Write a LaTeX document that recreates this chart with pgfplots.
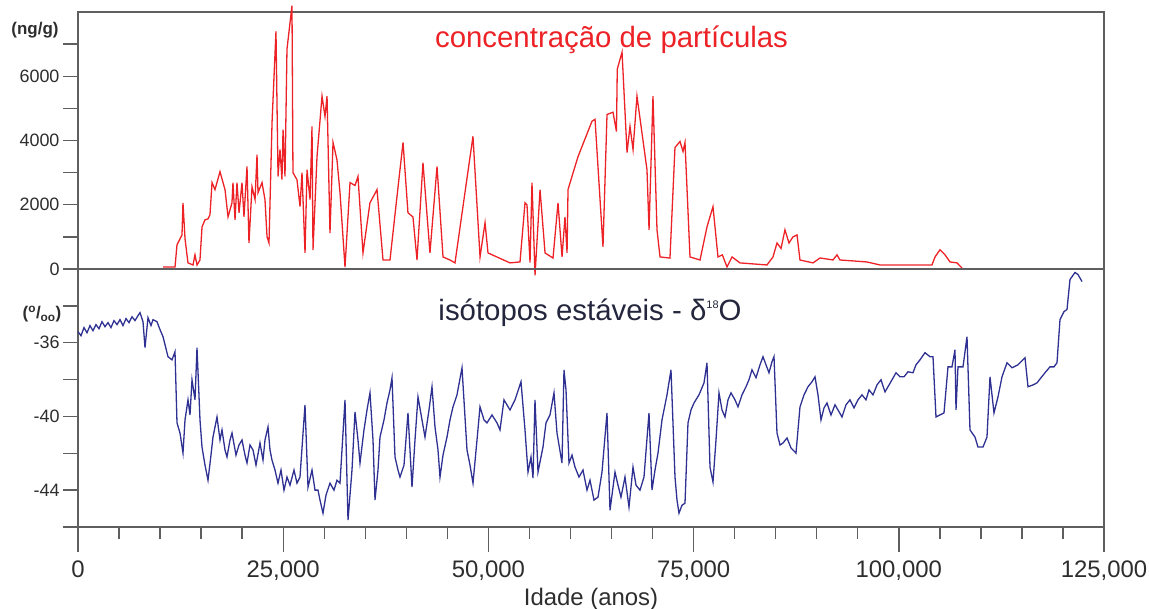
\documentclass[border=0pt]{standalone}
\usepackage{pgfplots}
\pgfplotsset{compat=1.18}
\usepackage{fontspec}
\setmainfont{Liberation Sans}
\definecolor{redline}{RGB}{236,34,39}
\definecolor{blueline}{RGB}{46,49,146}
\definecolor{axgray}{RGB}{95,95,95}
\definecolor{ticktext}{RGB}{45,45,45}
\definecolor{navytext}{RGB}{35,38,60}
\begin{document}
\begin{tikzpicture}
\path[use as bounding box] (0,0) rectangle (1149bp,609bp);
\pgfplotsset{
  base/.style={scale only axis, width=1026bp, xmin=0, xmax=125000, clip=false,
    axis line style={axgray, line width=1.4bp},
    tick style={axgray, line width=1.4bp},
    tick align=outside, ytick pos=left,
    major tick length=15bp, minor tick length=15bp,
    scaled x ticks=false, scaled y ticks=false,
    tick label style={font=\fontsize{18}{20}\selectfont, text=ticktext},
    xtick=\empty,
  },
}
% ---------------- top panel: particle concentration
\begin{axis}[base, at={(78bp,340bp)}, anchor=south west, height=257bp,
  ymin=0, ymax=8000, ytick={0,2000,4000,6000}, yticklabels={0,2000,4000,6000},
  minor ytick={1000,3000,5000,7000}]
\addplot[redline, line width=1.3bp] coordinates {
(10360,62) (11820,62) (12060,750) (12670,1060) (12790,2060) (13040,940) (13400,190)
(14010,125) (14250,440) (14500,125) (14860,280) (15110,1310) (15470,1530) (15840,1560)
(16080,1690) (16330,2690) (16690,2470) (17300,3030) (17910,2470) (18280,1625) (18760,2060)
(18880,2690) (19130,1530) (19370,2690) (19620,1750) (19980,2690) (20220,1625) (20590,3190)
(20830,810) (21200,2560) (21570,2160) (21810,3560) (21930,2375) (22420,2690) (22780,2160)
(23030,1000) (23270,810) (23640,4560) (24120,7400)
(24370,2880) (24610,3720) (24850,2780) (24980,4340) (25220,2880) (25460,6840) (26070,8200)
(26190,3000) (26680,2780) (27050,1940) (27290,3000) (27660,500) (27900,3090) (28270,2160)
(28510,4440) (28630,590) (29120,3500) (29730,5380) (30090,4750) (30340,5380) (30700,1120)
(31070,3940) (31550,3400) (31920,2380) (32530,60) (33140,2690) (33750,2600) (34110,2880)
(34720,500) (35570,2060) (36430,2470) (37160,280) (38010,280) (38860,2250) (39600,3940)
(40200,1750) (40810,1620) (41300,280) (42030,3310) (42880,500) (43740,3190) (44470,375)
(45320,280) (45930,190) (46900,1940) (48120,4130) (48980,375) (49590,1440) (49950,500)
(52630,190) (53850,220) (54460,2060) (54700,2000) (55070,200) (55310,2690) (55680,-200)
(56290,2470) (56900,500) (57870,340) (58480,2060) (58970,375) (59330,1620) (59580,500)
(59700,2470) (60180,2880) (60920,3500) (62620,4600) (62990,4660) (63960,690) (64450,4810)
(65180,4880) (65600,4280) (65700,6220) (66280,6750) (66890,3625) (67250,4440) (67620,3720)
(68100,5380) (69320,3090) (69570,1220) (70050,5380) (70540,1220) (70910,375) (72120,340)
(72730,3780) (73340,3970) (73710,3660) (73950,3940) (74560,375) (75780,280) (76630,1310)
(77360,1940) (77970,375) (78500,440) (79070,62) (79680,375) (80650,190) (83940,125)
(84670,375) (85160,810) (85650,640) (86130,1220) (86620,810) (87110,1000) (87600,1060)
(87960,280) (89550,190) (90400,344) (91980,281) (92470,440) (92830,281) (96120,219)
(97710,125) (100140,125) (104040,125) (104410,375) (105020,600) (105630,440) (106240,220)
(107090,190) (107700,30)
};
\node[anchor=base, text=redline, font=\fontsize{29.5}{32}\selectfont]
  at (axis description cs:0.52,0.86) {concentração de partículas};
\node[anchor=center, text=ticktext, font=\fontsize{17}{19}\selectfont\bfseries]
  at (axis description cs:0,0.93) [xshift=-43bp] {(ng/g)};
\end{axis}
% ---------------- bottom panel: d18O
\begin{axis}[base, at={(78bp,82bp)}, anchor=south west, height=258bp,
  ymin=-46, ymax=-32, ytick={-36,-40,-44}, yticklabels={-36,-40,-44},
  minor ytick={-34,-38,-42,-46}]
\addplot[blueline, line width=1.3bp] coordinates {
(0,-35.40) (365,-35.62) (731,-35.18) (1096,-35.46) (1462,-35.07) (1827,-35.35) (2193,-35.02)
(2558,-35.24) (2924,-34.86) (3289,-35.13) (3655,-34.91) (4020,-35.18) (4386,-34.80) (4751,-35.02)
(5117,-34.75) (5482,-35.07) (5848,-34.69) (6213,-34.91) (6579,-34.59) (6944,-34.80) (7310,-34.53)
(7553,-34.37) (7919,-34.86) (8163,-36.27) (8528,-34.64) (8894,-35.07) (9137,-34.75) (9625,-34.86)
(9990,-35.29) (10356,-35.67) (10965,-36.76) (11452,-36.93) (11818,-36.49) (12061,-40.35)
(12427,-40.90) (12792,-41.99) (13036,-40.19) (13401,-39.10) (13645,-39.92) (13889,-38.01)
(14254,-39.10) (14498,-36.27) (14863,-40.19) (15107,-41.66) (15472,-42.64) (15838,-43.46)
(16203,-42.10) (16447,-41.12) (16934,-40.03) (17300,-41.28) (17544,-40.73) (17909,-41.82)
(18153,-42.20) (18518,-41.28) (18762,-40.90) (19249,-42.10) (19615,-41.55) (19980,-41.28)
(20346,-42.10) (20589,-42.53) (20955,-41.55) (21320,-41.82) (21686,-42.64) (22173,-41.44)
(22539,-42.37) (22782,-41.28) (23148,-40.57) (23391,-41.82) (23635,-42.37) (24000,-42.91)
(24366,-43.62) (24731,-42.91) (25097,-44.00) (25462,-43.29) (25828,-43.73) (26315,-42.91)
(26681,-43.62) (27046,-43.29) (27655,-39.37) (28021,-43.84) (28508,-42.91) (28874,-44.00)
(29239,-44.00) (29483,-44.54) (29848,-45.25) (30214,-44.27) (30701,-43.62) (31188,-44.00)
(31554,-43.46) (31919,-43.62) (32529,-39.10) (32894,-45.63) (33381,-42.91) (33747,-39.75)
(34112,-41.28) (34356,-42.53) (34843,-40.73) (35209,-39.65) (35574,-38.72) (35940,-41.28)
(36184,-44.54) (36549,-42.91) (36793,-41.12) (37280,-40.19) (37645,-39.27) (38011,-38.56)
(38255,-37.90) (38620,-42.20) (38986,-42.91) (39229,-43.29) (39717,-42.64) (40204,-39.81)
(40691,-43.84) (41057,-41.28) (41422,-38.94) (41910,-40.19) (42275,-41.12) (42762,-39.65)
(43128,-38.39) (43493,-40.57) (43859,-41.82) (44102,-43.29) (44468,-42.10) (44955,-41.12)
(45321,-40.19) (45686,-39.48) (46174,-38.83) (46783,-37.36) (47392,-41.82) (47757,-42.64)
(48123,-43.62) (48610,-41.28) (48976,-39.48) (49463,-40.19) (49828,-40.35) (50438,-39.92)
(51047,-40.35) (51412,-40.73) (51899,-39.10) (52631,-39.65) (53240,-39.10) (53971,-38.12)
(54458,-40.73) (54824,-43.02) (55189,-42.20) (55433,-43.35) (55676,-39.10) (56042,-43.02)
(56651,-41.66) (57016,-40.35) (57504,-39.92) (57991,-38.72) (58357,-40.90) (58966,-42.53)
(59209,-37.47) (59453,-38.56) (59819,-42.53) (60184,-42.10) (60550,-42.75) (61037,-43.29)
(61524,-42.91) (62011,-44.00) (62377,-43.46) (62864,-44.54) (63352,-44.38) (63839,-43.02)
(64448,-39.81) (64814,-45.09) (65423,-43.02) (65788,-43.73) (66154,-44.38) (66641,-43.29)
(67128,-44.92) (67616,-42.75) (67981,-43.73) (68468,-44.00) (68956,-43.29) (69565,-39.81)
(69930,-44.00) (70296,-42.91) (70661,-41.99) (71149,-40.19) (71758,-38.83) (72245,-37.47)
(72733,-43.29) (72976,-44.54) (73220,-45.25) (73585,-44.82) (73951,-44.71) (74316,-40.35)
(74682,-39.65) (75047,-39.27) (75656,-38.83) (76266,-38.18) (76631,-37.09) (76997,-42.75)
(77362,-43.56) (77728,-41.28) (78093,-38.72) (78459,-39.65) (78824,-40.03) (79190,-39.10)
(79555,-38.72) (80042,-39.10) (80408,-39.48) (80895,-38.83) (81382,-38.39) (81748,-38.01)
(82113,-37.47) (82601,-37.90) (83088,-37.20) (83454,-36.76) (83819,-37.20) (84185,-37.63)
(84550,-37.03) (84794,-36.76) (85159,-40.90) (85525,-41.55) (85890,-41.44) (86377,-41.17)
(86865,-41.71) (87474,-41.99) (87961,-39.48) (88449,-38.83) (88936,-38.39) (89423,-38.12)
(89789,-37.85) (90154,-38.83) (90520,-40.19) (90885,-39.54) (91251,-39.27) (91738,-39.92)
(92225,-39.37) (92591,-39.65) (93078,-40.03) (93565,-39.37) (94053,-39.10) (94540,-39.54)
(95027,-39.10) (95515,-38.83) (96002,-39.10) (96368,-38.56) (96855,-38.83) (97342,-38.29)
(97829,-38.01) (98317,-38.67) (98682,-38.39) (99170,-38.01) (99657,-37.63) (100144,-37.85)
(100632,-37.85) (101119,-37.58) (101728,-37.63) (102094,-37.20) (102581,-36.93) (103190,-36.54)
(103799,-36.76) (104165,-36.76) (104530,-40.03) (105017,-39.92) (105505,-39.81) (105992,-37.31)
(106479,-37.31) (106845,-36.38) (106967,-39.65) (107210,-37.31) (107820,-37.31) (108307,-35.67)
(108672,-40.73) (109281,-41.12) (109647,-41.66) (110256,-41.66) (110743,-41.12) (111109,-37.85)
(111596,-39.81) (112084,-38.94) (112571,-37.85) (113180,-37.09) (113789,-37.36) (114520,-37.20)
(115374,-36.82) (115739,-38.39) (116348,-38.29) (116836,-38.18) (117322,-37.90) (117810,-37.63)
(118419,-37.31) (118906,-37.31) (119272,-37.09) (119637,-34.75) (120124,-34.31) (120490,-34.20)
(120855,-32.57) (121465,-32.19) (121830,-32.30) (122317,-32.68)
};
\node[anchor=base, text=navytext, font=\fontsize{29.5}{32}\selectfont]
  at (axis description cs:0.499,0.802) {isótopos estáveis - δ\raisebox{12bp}{\fontsize{11}{11}\selectfont 18}O};
\node[anchor=center, text=ticktext, font=\fontsize{17}{19}\selectfont\bfseries]
  at (axis description cs:0,0.826) [xshift=-36bp] {(\textsuperscript{o}/\textsubscript{oo})};
\end{axis}
% ---------------- x ticks and label
\begin{axis}[scale only axis, width=1026bp, height=258bp, at={(78bp,82bp)}, anchor=south west,
  xmin=0, xmax=125000, ymin=0, ymax=1,
  axis x line*=bottom, axis y line=none,
  axis line style={axgray, line width=1.4bp},
  tick style={axgray, line width=1.4bp},
  tick align=outside, major tick length=25bp, minor tick length=12bp,
  scaled x ticks=false,
  xtick={0,25000,50000,75000,100000,125000},
  xticklabels={0,{25,000},{50,000},{75,000},{100,000},{125,000}},
  minor xtick={5000,10000,15000,20000,30000,35000,40000,45000,55000,60000,65000,70000,
    80000,85000,90000,95000,105000,110000,115000,120000},
  xticklabel style={font=\fontsize{24}{26}\selectfont, text=ticktext, yshift=-5bp},
  xlabel={Idade (anos)},
  xlabel style={font=\fontsize{24}{26}\selectfont, text=ticktext,
    at={(axis description cs:0.5,0)}, anchor=base, yshift=-78bp},
]
\end{axis}
\end{tikzpicture}
\end{document}
